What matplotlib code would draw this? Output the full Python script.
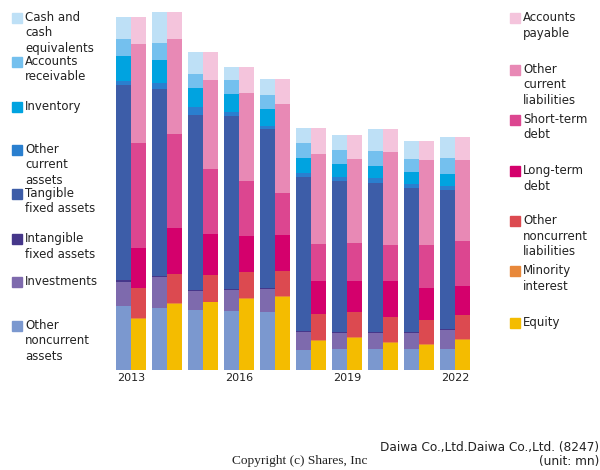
import matplotlib
matplotlib.use("Agg")
import matplotlib.pyplot as plt
from matplotlib.patches import Rectangle
import numpy as np

years = [2013, 2014, 2015, 2016, 2017, 2018, 2019, 2020, 2021, 2022]
tick_years = [2013, 2016, 2019, 2022]

# Assets (bottom to top order listed later)
cash = [21.7, 31.3, 21.3, 12.7, 16.0, 15.0, 15.0, 21.7, 18.0, 20.3]
receivable = [16.7, 17.3, 14.0, 14.0, 14.0, 15.0, 14.3, 14.7, 12.7, 16.7]
inventory = [25.3, 23.0, 19.7, 18.7, 17.3, 15.0, 13.0, 12.7, 12.3, 11.3]
other_current = [4.3, 5.7, 8.0, 4.0, 3.3, 4.3, 4.0, 4.3, 3.7, 4.7]
tangible = [194.7, 187.0, 174.7, 172.7, 159.0, 153.3, 150.7, 149.3, 144.3, 139.0]
intangible = [1.7, 0.7, 0.7, 1.0, 1.0, 1.0, 0.7, 0.7, 0.7, 1.0]
investments = [24.3, 31.3, 19.3, 21.3, 23.0, 18.3, 16.7, 16.7, 16.7, 19.0]
other_noncurrent = [64.0, 62.0, 60.0, 58.7, 57.7, 20.0, 20.7, 20.7, 20.7, 20.7]

# Liabilities and equity
payable = [26.7, 27.3, 27.7, 26.0, 25.3, 26.0, 23.7, 22.7, 19.0, 23.0]
other_cl = [98.7, 94.7, 89.0, 88.0, 88.7, 89.7, 84.7, 93.3, 84.7, 80.7]
short_debt = [105.7, 94.0, 64.7, 55.3, 42.3, 37.3, 37.3, 35.3, 43.0, 45.0]
long_debt = [39.3, 46.3, 41.3, 35.7, 36.0, 33.3, 31.7, 36.3, 32.7, 29.0]
other_ncl = [30.0, 29.3, 26.7, 25.7, 25.0, 26.0, 25.0, 25.0, 23.7, 23.7]
minority = [1.3, 0.7, 0.7, 1.3, 1.0, 1.0, 1.0, 1.0, 1.0, 1.3]
equity = [51.0, 66.0, 67.7, 71.0, 73.0, 28.7, 31.7, 27.0, 25.0, 30.0]

asset_labels = ["Cash and\ncash\nequivalents", "Accounts\nreceivable", "Inventory",
                "Other\ncurrent\nassets", "Tangible\nfixed assets", "Intangible\nfixed assets",
                "Investments", "Other\nnoncurrent\nassets"]
liab_labels = ["Accounts\npayable", "Other\ncurrent\nliabilities", "Short-term\ndebt",
               "Long-term\ndebt", "Other\nnoncurrent\nliabilities", "Minority\ninterest", "Equity"]

asset_colors = ["#bee0f6", "#74c0ee", "#00a3e0", "#2a7fcf", "#3d5da8", "#46378a", "#7e6aad", "#7b98cf"]
liab_colors = ["#f4c4dc", "#e889b5", "#dc4690", "#d4006c", "#dc4a50", "#e8883a", "#f4bc00"]

assets_top_down = [cash, receivable, inventory, other_current, tangible, intangible, investments, other_noncurrent]
liab_top_down = [payable, other_cl, short_debt, long_debt, other_ncl, minority, equity]

W, H = 600, 470
fig = plt.figure(figsize=(6, 4.7), dpi=100)
# axes in pixel coordinates: left 113, right 473, bottom y=370, top y=10
ax = fig.add_axes([113 / W, (H - 370) / H, 360 / W, 360 / H])
ax.set_xlim(-0.5, 9.5)
ax.set_ylim(0, 360)
ax.axis("off")

x = np.arange(len(years))
bw = 0.425

bottom = np.zeros(len(years))
for vals, col in zip(assets_top_down[::-1], asset_colors[::-1]):
    ax.bar(x - bw / 2, vals, bw, bottom=bottom, color=col, linewidth=0)
    bottom += np.array(vals)

bottom = np.zeros(len(years))
for vals, col in zip(liab_top_down[::-1], liab_colors[::-1]):
    ax.bar(x + bw / 2, vals, bw, bottom=bottom, color=col, linewidth=0)
    bottom += np.array(vals)

for yr in tick_years:
    i = years.index(yr)
    ax.text(i, -3, str(yr), ha="center", va="top", fontsize=8, color="#222222")

fs = 8.5
# Left legend
left_tops = [13, 57, 102, 145, 189, 234, 277, 321]
for lab, col, t in zip(asset_labels, asset_colors, left_tops):
    fig.patches.append(Rectangle((12 / W, (H - t - 10) / H), 10 / W, 10 / H,
                                 transform=fig.transFigure, color=col, figure=fig))
    fig.text(25 / W, (H - t + 2) / H, lab, ha="left", va="top", fontsize=fs,
             color="#222222", linespacing=1.25)

right_tops = [13, 65, 115, 166, 216, 266, 318]
for lab, col, t in zip(liab_labels, liab_colors, right_tops):
    fig.patches.append(Rectangle((510 / W, (H - t - 10) / H), 10 / W, 10 / H,
                                 transform=fig.transFigure, color=col, figure=fig))
    fig.text(523 / W, (H - t + 2) / H, lab, ha="left", va="top", fontsize=fs,
             color="#222222", linespacing=1.25)

fig.text(599 / W, (H - 447) / H, "Daiwa Co.,Ltd.Daiwa Co.,Ltd. (8247)", ha="right",
         va="center", fontsize=8.7, color="#222222")
fig.text(599 / W, (H - 461) / H, "(unit: mn)", ha="right", va="center",
         fontsize=8.7, color="#222222")
fig.text(300 / W, (H - 461) / H, "Copyright (c) Shares, Inc", ha="center", va="center",
         fontsize=9.6, family="Liberation Serif", color="#222222")

fig.savefig("out.png", dpi=100)
